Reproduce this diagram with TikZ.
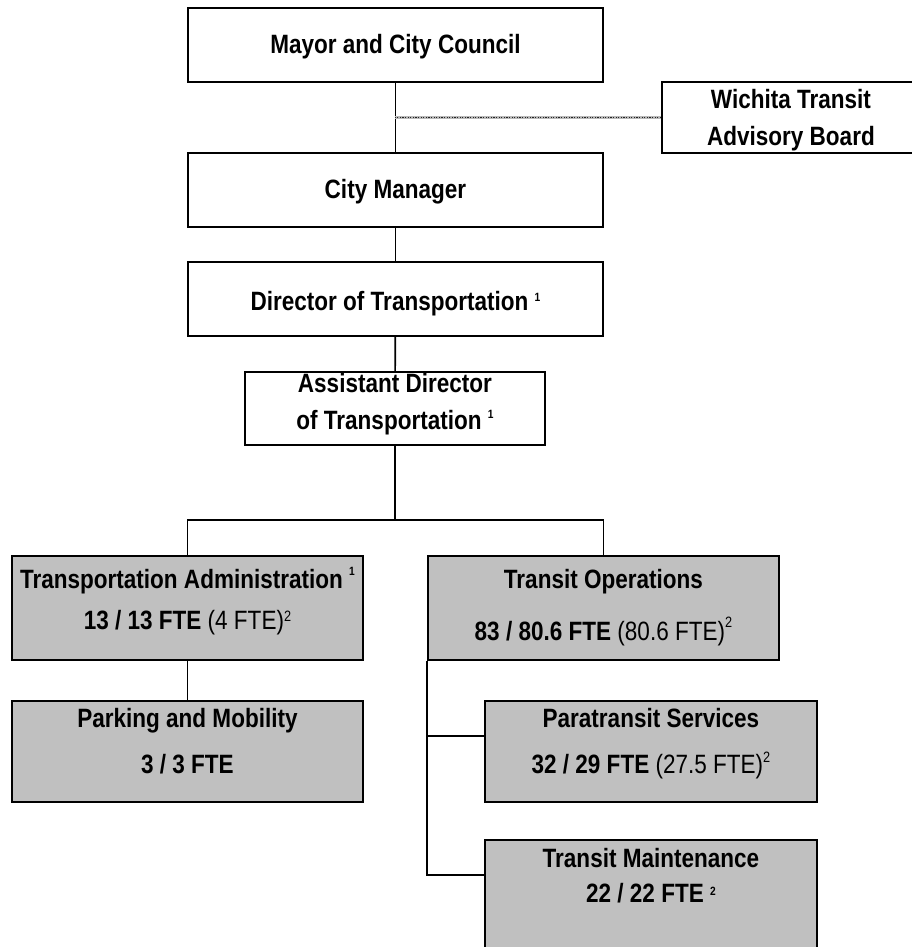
\documentclass[tikz,border=0pt]{standalone}
\usepackage{fontspec}
\setmainfont{Liberation Sans}[FakeStretch=0.85]
\usetikzlibrary{positioning,calc}
\definecolor{boxgray}{HTML}{C0C0C0}
\newcommand\fnb[2][9pt]{\raisebox{#1}{\fontsize{12}{12}\selectfont\bfseries #2}}
\newcommand\fnr[2][10pt]{\raisebox{#1}{\fontsize{15}{15}\selectfont\mdseries #2}}

\begin{document}
\begin{tikzpicture}[x=1pt,y=-1pt]
      \tikzstyle{unit} = [rectangle, draw, line width=1.9pt, fill=white, inner sep=0pt, align=center, anchor=north west, font=\fontsize{26.5}{37}\selectfont\bfseries]
      \tikzstyle{dept} = [unit, fill=boxgray]
      \tikzstyle{link} = [line width=1.7pt]
      \tikzstyle{advisory} = [draw=gray!55, line width=2.6pt, postaction={draw=gray!30!black, line width=0.9pt, dash pattern=on 1.2pt off 1.4pt}]

      \useasboundingbox (0,0) rectangle (911,947);

      \node[unit, minimum width=415pt, text height=46pt, text depth=28pt] (mayor) at (187,7) {Mayor and City Council};
      \node[unit, minimum width=258pt, text height=64pt, text depth=7pt] (board) at (661,81) {Wichita Transit\\Advisory Board};
      \node[unit, minimum width=415pt, text height=46pt, text depth=28pt] (manager) at (187,152) {City Manager};
      \node[unit, minimum width=415pt, text height=49pt, text depth=25pt] (director) at (187,261) {Director of Transportation \fnb{1}};
      \node[unit, minimum width=300pt, text height=58pt, text depth=15pt] (assistant) at (244,371) {Assistant Director\\of Transportation \fnb[11pt]{1}};

      \node[dept, minimum width=351pt, text height=74pt, text depth=30pt] (admin) at (11,555) {Transportation Administration \fnb[13pt]{1}\\[4pt]13 / 13 FTE {\mdseries(4 FTE)}\fnr[8pt]{2}};
      \node[dept, minimum width=351pt, text height=85pt, text depth=19pt] (ops) at (427,555) {Transit Operations\\[15pt]83 / 80.6 FTE {\mdseries(80.6 FTE)}\fnr[13pt]{2}};
      \node[dept, minimum width=351pt, text height=73pt, text depth=28pt] (parking) at (11,700) {Parking and Mobility\\[9pt]3 / 3 FTE};
      \node[dept, minimum width=332pt, text height=73pt, text depth=28pt] (para) at (484,700) {Paratransit Services\\[9pt]32 / 29 FTE {\mdseries(27.5 FTE)}\fnr[11pt]{2}};
      \node[dept, minimum width=332pt, text height=63pt, text depth=63pt] (maint) at (484,839) {Transit Maintenance\\[-2pt]22 / 22 FTE \fnb[7pt]{2}};

      \draw[link] (mayor) -- (manager);
      \draw[advisory] (board.west) -- (board.west -| mayor.south);
      \draw[link] (manager) -- (director);
      \draw[link] (director) -- (assistant);
      \draw[link] (assistant.south) -- ++(0,74) coordinate (bus);
      \draw[link] (admin.north) |- (bus) -| (ops.north);
      \draw[link] (admin) -- (parking);
      \draw[link] (ops.south west) |- ([yshift=-36pt]maint.north west);
      \draw[link] ([yshift=-36pt]para.north west) -- ([yshift=-36pt]para.north west -| ops.south west);
\end{tikzpicture}
\end{document}
